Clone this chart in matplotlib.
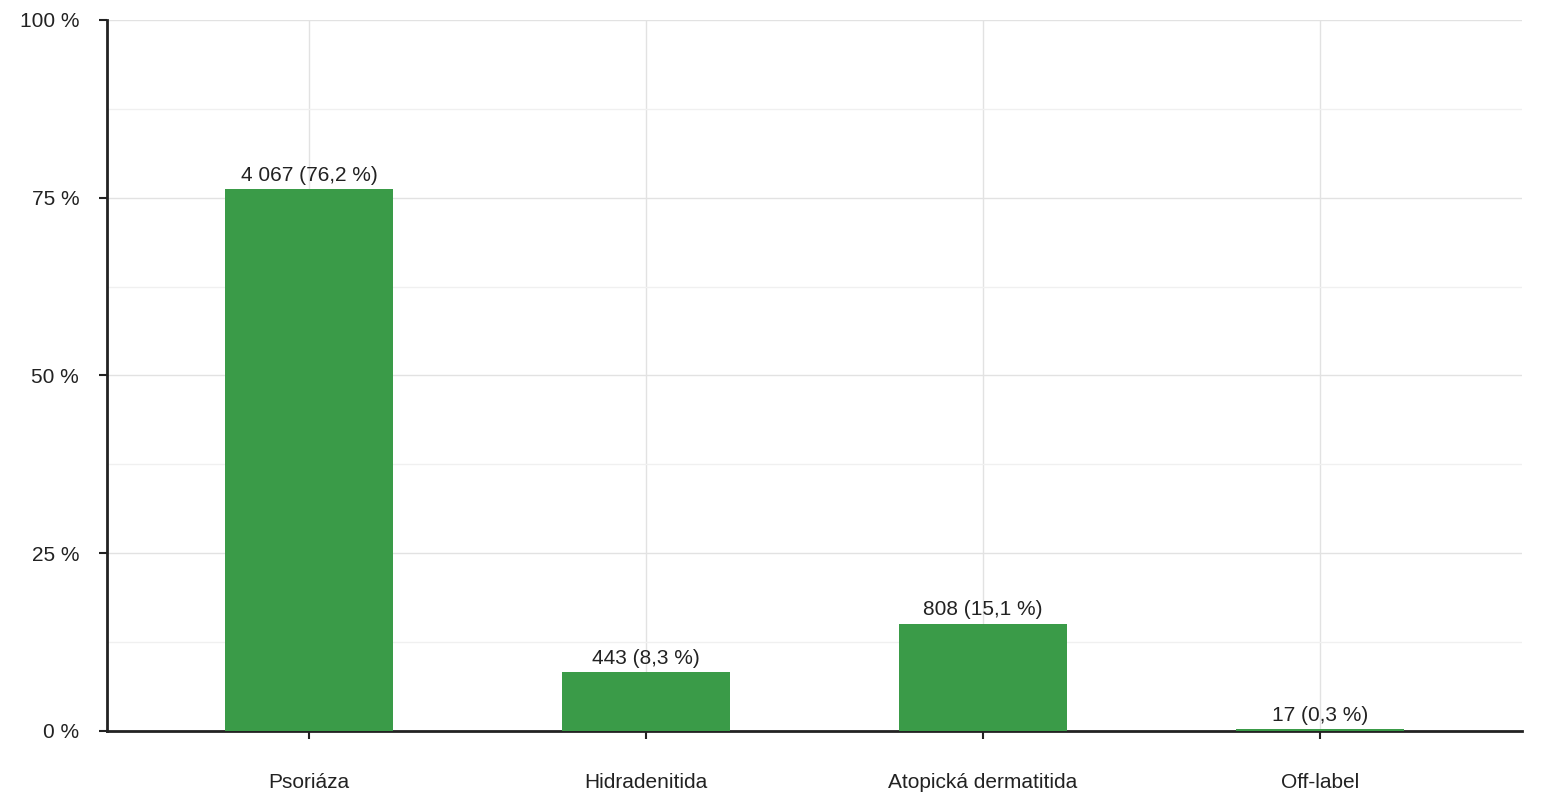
import matplotlib
matplotlib.use("Agg")
import matplotlib.pyplot as plt
from matplotlib.ticker import MultipleLocator

plt.rcParams['font.family'] = ['Liberation Sans', 'DejaVu Sans']

categories = ["Psoriáza", "Hidradenitida", "Atopická dermatitida", "Off-label"]
counts = ["4 067", "443", "808", "17"]
percents = [76.2, 8.3, 15.1, 0.3]
ytick_labels = ["0 %", "25 %", "50 %", "75 %", "100 %"]

fig = plt.figure(figsize=(15.52, 8.0), dpi=100)
ax = fig.add_axes([107/1552, 1-731/800, (1522-107)/1552, (731-20)/800])
x = range(len(categories))
ax.bar(x, percents, width=0.5, color="#3a9b48", zorder=3)
for i, (c, p) in enumerate(zip(counts, percents)):
    ax.text(i, p + 0.6, f"{c} ({str(p).replace('.', ',')} %)", ha="center", va="bottom",
            fontsize=15, color="#222222", zorder=4)
ax.set_xlim(-0.6, 3.6)
ax.set_ylim(0, 100)
ax.set_yticks([0, 25, 50, 75, 100])
ax.set_yticklabels(ytick_labels, fontsize=15, color="#222222")
ax.yaxis.set_minor_locator(MultipleLocator(12.5))
ax.set_xticks(list(x))
ax.set_xticklabels(categories, fontsize=15, color="#222222")
ax.grid(True, which="major", color="#e2e2e2", lw=1, zorder=0)
ax.grid(True, which="minor", axis="y", color="#f0f0f0", lw=1, zorder=0)
ax.tick_params(axis="y", which="minor", length=0)
ax.tick_params(axis="both", which="major", length=6, width=1.5, color="#222222")
ax.tick_params(axis="x", pad=24)
ax.tick_params(axis="y", pad=14)
for s in ["top", "right"]:
    ax.spines[s].set_visible(False)
for s in ["left", "bottom"]:
    ax.spines[s].set_linewidth(2)
    ax.spines[s].set_color("#222222")
fig.savefig("out.png", dpi=100)
